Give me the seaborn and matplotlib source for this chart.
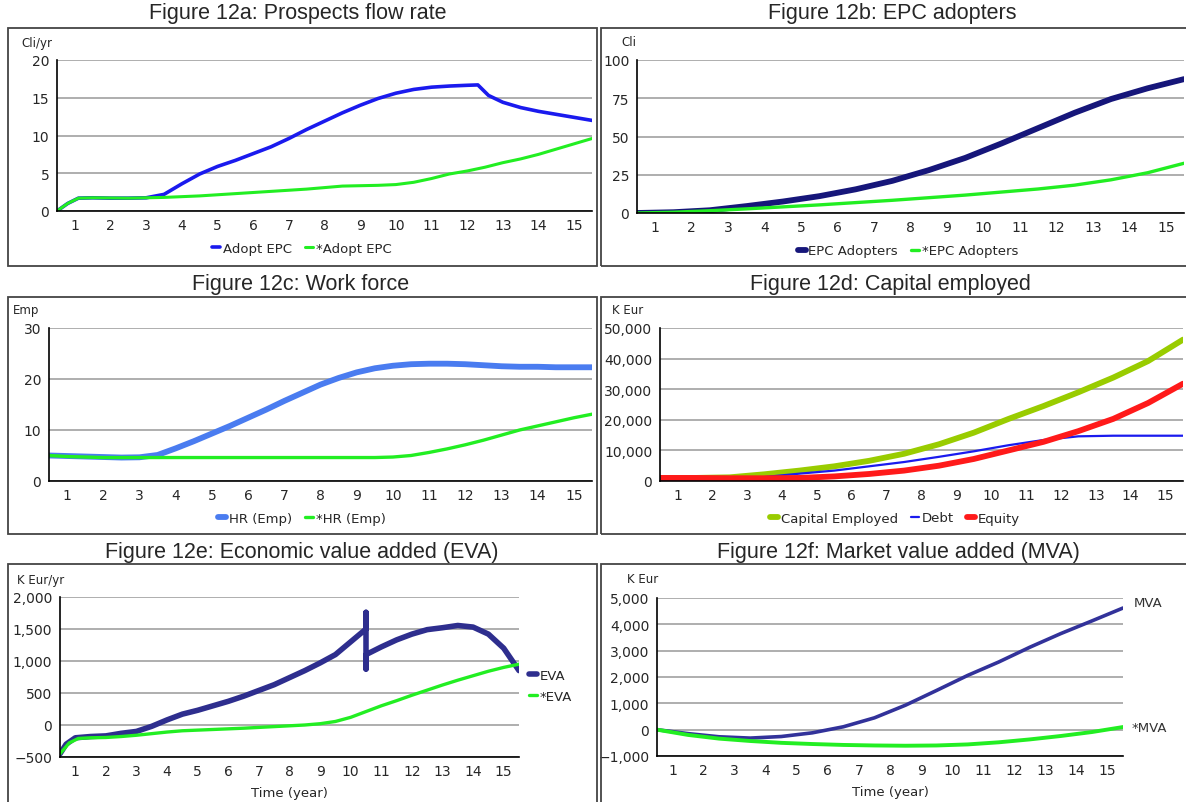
import matplotlib
matplotlib.use("Agg")
import matplotlib.pyplot as plt
import seaborn as sns
from matplotlib.patches import Rectangle
from matplotlib.ticker import FixedLocator, StrMethodFormatter

# ---- data ----
years = list(range(16))
year_labels = [str(i) for i in range(1, 16)]

# 12a prospects flow rate
a_t = [0, 0.3, 0.6, 1, 1.5, 2, 2.5, 3, 3.5, 4, 4.5, 5, 5.5, 6, 6.5, 7, 7.5, 8,
       8.5, 9, 9.5, 10, 10.5, 11, 11.5, 11.8, 12.1, 12.5, 13, 13.5, 14, 14.5, 15]
adopt_epc = [0, 1.0, 1.7, 1.75, 1.7, 1.7, 1.75, 2.2, 3.6, 4.9, 5.9, 6.7, 7.6,
             8.5, 9.6, 10.8, 11.9, 13.0, 14.0, 14.9, 15.6, 16.1, 16.4, 16.55,
             16.65, 16.7, 15.3, 14.4, 13.7, 13.2, 12.8, 12.4, 12.0]
a2_t = [0, 0.3, 0.6, 1, 2, 3, 4, 5, 6, 7, 8, 9, 9.5, 10, 10.5, 11, 11.5, 12,
        12.5, 13, 13.5, 14, 14.5, 15]
adopt_epc_star = [0, 1.0, 1.7, 1.75, 1.7, 1.8, 2.0, 2.3, 2.6, 2.9, 3.3, 3.4,
                  3.5, 3.8, 4.3, 4.9, 5.3, 5.8, 6.4, 6.9, 7.5, 8.2, 8.9, 9.6]

# 12b EPC adopters
epc_adopters = [0, 0.5, 1.8, 4.5, 7.5, 11, 15.5, 21, 28, 36, 45.5, 55.5, 65.5,
                74.5, 81.5, 87.5]
epc_adopters_star = [0, 0.5, 1.5, 2.7, 4, 5.3, 6.8, 8.3, 10, 11.7, 13.7, 15.7,
                     18.2, 21.7, 26.3, 32.5]

# 12c work force
c_t = [i / 2 for i in range(31)]
hr = [5.0, 4.9, 4.8, 4.7, 4.6, 4.65, 5.1, 6.4, 7.8, 9.3, 10.8, 12.4, 14.0,
      15.7, 17.3, 18.9, 20.2, 21.3, 22.1, 22.6, 22.9, 23.0, 23.0, 22.9, 22.7,
      22.5, 22.4, 22.4, 22.3, 22.3, 22.3]
c2_t = [0, 0.5, 1, 1.5, 2, 3, 4, 5, 6, 7, 8, 9, 9.5, 10, 10.5, 11, 11.5, 12,
        12.5, 13, 13.5, 14, 14.5, 15]
hr_star = [5.0, 4.8, 4.7, 4.6, 4.6, 4.6, 4.6, 4.6, 4.6, 4.6, 4.6, 4.6, 4.7,
           5.0, 5.6, 6.3, 7.1, 8.0, 9.0, 10.0, 10.8, 11.6, 12.4, 13.1]

# 12d capital employed
capital_employed = [1000, 1000, 1200, 2200, 3400, 4800, 6600, 8900, 12000,
                    15800, 20300, 24500, 29000, 33800, 39200, 46200]
debt = [300, 300, 600, 1300, 2400, 3400, 4800, 6200, 7900, 9700, 11700, 13400,
        14600, 14800, 14800, 14800]
equity = [1000, 1000, 900, 900, 1000, 1500, 2300, 3400, 5000, 7200, 10000,
          12800, 16300, 20300, 25500, 31800]

# 12e economic value added
e_t = [0, 0.2, 0.5, 1, 1.5, 2, 2.5, 3, 3.5, 4, 4.5, 5, 5.5, 6, 6.5, 7, 7.5, 8,
       8.5, 9, 9.5, 10, 10, 10, 10, 10.5, 11, 11.5, 12, 12.5, 13, 13.5, 14,
       14.5, 15]
eva = [-450, -300, -200, -180, -170, -130, -100, -20, 80, 170, 230, 300, 370,
       450, 540, 630, 740, 850, 970, 1100, 1300, 1500, 1760, 875, 1100, 1220,
       1330, 1420, 1490, 1520, 1555, 1530, 1420, 1200, 850]
e2_t = [0, 0.3, 0.6, 1, 1.5, 2, 2.5, 3, 3.5, 4, 5, 6, 7, 8, 8.5, 9, 9.5, 10,
        10.5, 11, 11.5, 12, 12.5, 13, 13.5, 14, 14.5, 15]
eva_star = [-450, -280, -210, -200, -195, -180, -160, -135, -110, -90, -70,
            -50, -25, 0, 20, 55, 120, 210, 300, 380, 465, 545, 625, 700, 770,
            840, 900, 950]

# 12f market value added
mva = [0, -150, -270, -320, -260, -120, 110, 450, 930, 1490, 2060, 2570, 3130,
       3650, 4130, 4620]
mva_star = [0, -200, -340, -430, -500, -545, -580, -600, -610, -600, -560,
            -480, -370, -240, -90, 100]

# ---- style ----
sns.set_theme(style="white")
plt.rcParams["font.family"] = ["DejaVu Sans"]
W, H = 1186, 803
fig = plt.figure(figsize=(W / 100, H / 100), dpi=100)
GREEN = "#22ee22"


def px_axes(x0, x1, ytop, ybot):
    return fig.add_axes([x0 / W, 1 - ybot / H, (x1 - x0) / W, (ybot - ytop) / H])


def box(x0, y0, x1, y1):
    fig.patches.append(Rectangle((x0 / W, 1 - y1 / H), (x1 - x0) / W, (y1 - y0) / H,
                                 transform=fig.transFigure, fill=False,
                                 ec="#444444", lw=1.3))


def title(x, y, s):
    fig.text(x / W, 1 - y / H, s, ha="center", va="center", fontsize=15.5,
             family=["Liberation Sans Narrow", "Liberation Sans"])


def unit(x, y, s):
    fig.text(x / W, 1 - y / H, s, ha="left", va="center", fontsize=8.5)


def style(ax, ymax, ystep, ymin=0, fmt="{x:,.0f}"):
    ax.set_xlim(0, 15)
    ax.set_ylim(ymin, ymax)
    ax.set_yticks(list(range(ymin, ymax + 1, ystep)))
    ax.yaxis.set_major_formatter(StrMethodFormatter(fmt))
    ax.xaxis.set_major_locator(FixedLocator(years))
    ax.xaxis.set_minor_locator(FixedLocator([y + 0.5 for y in years[:-1]]))
    ax.set_xticklabels([], minor=False)
    ax.set_xticklabels(year_labels, minor=True)
    ax.tick_params(axis="x", which="major", direction="inout", length=7,
                   width=1.2, color="black")
    ax.tick_params(axis="x", which="minor", length=0, pad=5, labelsize=10)
    ax.tick_params(axis="y", direction="out", length=4, width=1.2,
                   color="black", pad=1.5, labelsize=10)
    for s in ("top", "right"):
        ax.spines[s].set_visible(False)
    for s in ("left", "bottom"):
        ax.spines[s].set_color("black")
        ax.spines[s].set_linewidth(1.2)
    ax.grid(axis="y", color="#999999", lw=1.1)
    ax.set_axisbelow(True)
    ax.set_xlabel("")
    ax.set_ylabel("")
    ax.patch.set_alpha(0)


def legend_below(ax, x, y, ncol):
    ax.legend(loc="center", bbox_to_anchor=(x / W, 1 - y / H),
              bbox_transform=fig.transFigure, ncol=ncol, frameon=False,
              handlelength=0.6, handletextpad=0.2, columnspacing=1.0,
              fontsize=9.5, borderaxespad=0)


def line(ax, t, v, color, lw, label=None):
    sns.lineplot(x=t, y=v, ax=ax, color=color, lw=lw, label=label,
                 estimator=None, sort=False)


# boxes
box(8, 29, 597, 267)
box(601, 29, 1192, 267)
box(8, 298, 597, 535)
box(601, 298, 1192, 535)
box(8, 565, 597, 810)
box(601, 565, 1192, 810)

# 12a
title(298, 14, "Figure 12a: Prospects flow rate")
ax = px_axes(57, 592, 61, 212)
line(ax, a_t, adopt_epc, "#1a1aee", 2.6, "Adopt EPC")
line(ax, a2_t, adopt_epc_star, GREEN, 2.2, "*Adopt EPC")
style(ax, 20, 5)
legend_below(ax, 302, 249, 2)
unit(21, 44, "Cli/yr")

# 12b
title(892, 14, "Figure 12b: EPC adopters")
ax = px_axes(637, 1184, 61, 214)
line(ax, years, epc_adopters, "#16167a", 4.2, "EPC Adopters")
line(ax, years, epc_adopters_star, GREEN, 2.4, "*EPC Adopters")
style(ax, 100, 25)
legend_below(ax, 908, 252, 2)
unit(621, 43, "Cli")

# 12c
title(301, 285, "Figure 12c: Work force")
ax = px_axes(49, 592, 329, 482)
line(ax, c_t, hr, "#4a7cf0", 4.2, "HR (Emp)")
line(ax, c2_t, hr_star, GREEN, 2.4, "*HR (Emp)")
style(ax, 30, 10)
legend_below(ax, 302, 519, 2)
unit(13, 311, "Emp")

# 12d
title(890, 285, "Figure 12d: Capital employed")
ax = px_axes(660, 1183, 329, 482)
line(ax, years, capital_employed, "#99cc00", 4.2, "Capital Employed")
line(ax, years, debt, "#1a1aee", 1.6, "Debt")
line(ax, years, equity, "#ff1a1a", 4.2, "Equity")
style(ax, 50000, 10000)
legend_below(ax, 895, 519, 3)
unit(612, 311, "K Eur")

# 12e
title(302, 553, "Figure 12e: Economic value added (EVA)")
ax = px_axes(60, 519, 598, 758)
line(ax, e_t, eva, "#2e2e8e", 4.0, "EVA")
line(ax, e2_t, eva_star, GREEN, 2.4, "*EVA")
style(ax, 2000, 500, ymin=-500)
ax.set_xlabel("Time (year)", fontsize=9.5, labelpad=6)
ax.legend(loc="center left", bbox_to_anchor=(524 / W, 1 - 687 / H),
          bbox_transform=fig.transFigure, ncol=1, frameon=False,
          handlelength=0.6, handletextpad=0.2, labelspacing=0.6,
          fontsize=9.5, borderaxespad=0)
unit(17, 581, "K Eur/yr")

# 12f
title(898, 553, "Figure 12f: Market value added (MVA)")
ax = px_axes(657, 1123, 599, 757)
line(ax, years, mva, "#32329a", 2.6)
line(ax, years, mva_star, GREEN, 2.8)
style(ax, 5000, 1000, ymin=-1000)
ax.set_xlabel("Time (year)", fontsize=9.5, labelpad=6)
ax.annotate("MVA", xy=(15, mva[-1]), xytext=(8, 4), textcoords="offset points",
            ha="left", va="center", fontsize=9.5, color="#333333")
ax.annotate("*MVA", xy=(15, mva_star[-1]), xytext=(6, 0),
            textcoords="offset points", ha="left", va="center", fontsize=9.5,
            color="#333333")
if ax.get_legend() is not None:
    ax.get_legend().remove()
unit(627, 580, "K Eur")

fig.savefig("out.png", dpi=100)
